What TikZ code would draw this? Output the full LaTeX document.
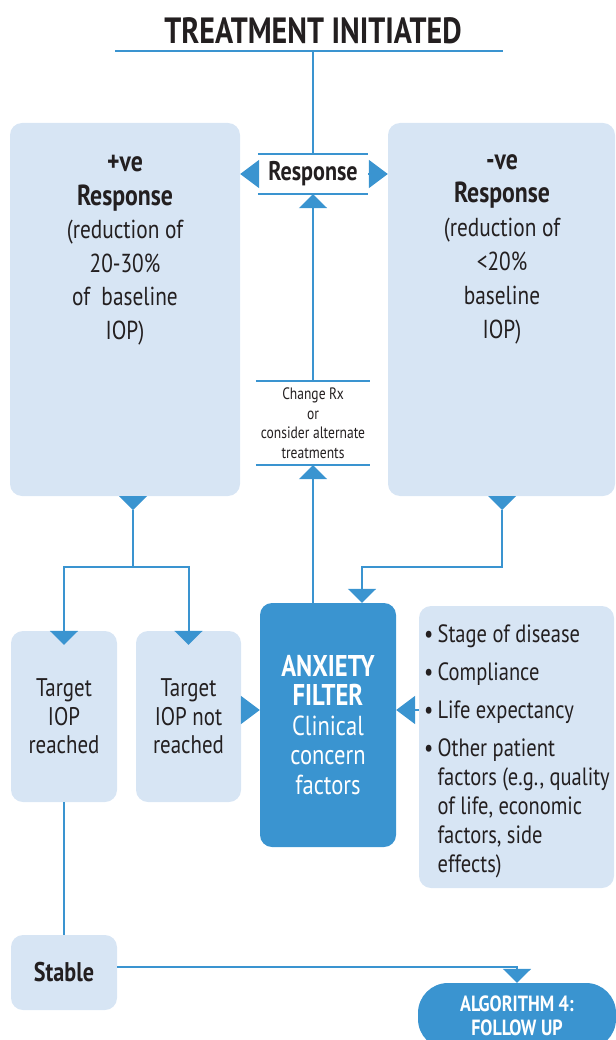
\documentclass[tikz,border=0pt]{standalone}
\usepackage{fontspec}
\setmainfont[FakeStretch=0.82]{PT Sans}
\usetikzlibrary{arrows.meta,calc}
\definecolor{cblue}{HTML}{3A94D0}
\definecolor{cfill}{HTML}{D7E5F4}
\definecolor{ctext}{HTML}{231F20}
\newcommand\fsz[2]{\fontsize{#1}{#2}\selectfont}
\begin{document}
\begin{tikzpicture}[x=1pt,y=-1pt,
  conn/.style={draw=cblue, line width=2pt},
  tipv/.style={-{Triangle[width=28pt,length=14pt]}},
  tiph/.style={-{Triangle[width=28pt,length=19pt]}},
  softbox/.style={fill=cfill, rounded corners=12pt, inner sep=0pt, text=ctext, align=center},
  darkbox/.style={fill=cblue, rounded corners=12pt, inner sep=0pt, text=white, align=center},
  txt/.style={inner sep=0pt, text=ctext, align=center}]
\useasboundingbox (0,0) rectangle (615,1040);

% title
\node[txt, font=\bfseries\fsz{36.5}{40}] (title) at (313,31) {TREATMENT INITIATED};
\coordinate (tl) at (115,51);
\coordinate (tr) at (503,51);
\coordinate (tm) at (313,51);

% big boxes
\node[softbox, minimum width=230, minimum height=373] (pos) at (125,309.5) {};
\node[txt, font=\fsz{26}{33.5}] (postxt) at (125,250) {{\bfseries\fontsize{29}{33.5}\selectfont +ve}\\{\bfseries\fontsize{29}{33.5}\selectfont Response}\\(reduction of\\20-30\%\\of~ baseline\\IOP)};
\node[softbox, minimum width=227, minimum height=373] (neg) at (501.5,309.5) {};
\node[txt, font=\fsz{26}{33.8}] (negtxt) at (502,249) {{\bfseries\fontsize{29}{33.8}\selectfont -ve}\\{\bfseries\fontsize{29}{33.8}\selectfont Response}\\(reduction of\\<20\%\\baseline\\IOP)};

% response and change
\node[txt, font=\bfseries\fsz{27}{28}, minimum width=110, minimum height=40] (resp) at (313,174) {Response};
\node[txt, font=\fsz{16.5}{19.5}, minimum width=114, minimum height=84] (chg) at (313,423) {Change Rx\\or\\consider alternate\\treatments};

% lower boxes
\node[softbox, minimum width=106, minimum height=171, font=\fsz{25.5}{28.5}] (t1) at (64,716.5) {Target\\IOP\\reached};
\node[softbox, minimum width=105, minimum height=171, font=\fsz{25.5}{28.5}] (t2) at (188.5,716.5) {Target\\IOP not\\reached};
\node[darkbox, minimum width=136, minimum height=244, font=\fsz{27.5}{29.5}] (anx) at (328,725) {{\bfseries\fontsize{30}{29.5}\selectfont ANXIETY}\\{\bfseries\fontsize{30}{29.5}\selectfont FILTER}\\Clinical\\concern\\factors};
\node[softbox, minimum width=195, minimum height=282] (fac) at (516.5,747) {};
\node[txt, align=left, anchor=north west, font=\fsz{25}{29}] (factxt) at (424,624)
 {\textbullet\,Stage of disease\\[9pt]
  \textbullet\,Compliance\\[9pt]
  \textbullet\,Life expectancy\\[9pt]
  \textbullet\,Other patient\\
  \hphantom{\textbullet\,}factors (e.g., quality\\
  \hphantom{\textbullet\,}of life, economic\\
  \hphantom{\textbullet\,}factors, side\\
  \hphantom{\textbullet\,}effects)};
\node[softbox, minimum width=106, minimum height=75, font=\bfseries\fsz{27}{28}] (stb) at (64,972.5) {Stable};
\node[darkbox, rounded corners=30pt, minimum width=198, minimum height=66, font=\bfseries\fsz{22}{24}] (alg) at (517,1016) {ALGORITHM 4:\\FOLLOW UP};

% helper coordinates
\coordinate (pout) at (133,496);
\coordinate (ptip) at (133,510);
\coordinate (j1) at (133,567);
\coordinate (nout) at (502,496);
\coordinate (ntip) at (502,510);
\coordinate (j2) at (362,567);
\coordinate (ay) at (0,710);
\coordinate (sy) at (0,967);

% connectors
\draw[conn, line width=2.5pt] (tl) -- (tr);
\draw[conn] (tm) -- (tm |- resp.north);
\draw[conn] (resp.north west) -- (resp.north east);
\draw[conn] (resp.south west) -- (resp.south east);
\draw[conn] (chg.north west) -- (chg.north east);
\draw[conn] (chg.south west) -- (chg.south east);
\draw[conn, tiph] (resp.west) -- (pos.east |- resp.west);
\draw[conn, tiph] (resp.east) -- (neg.west |- resp.east);
\draw[conn, tipv] (chg.north) -- (resp.south);
\draw[conn, tipv] (anx.north -| chg.south) -- (chg.south);

\fill[cblue] ($(pout)+(-14,0)$) -- ($(pout)+(14,0)$) -- (ptip) -- cycle;
\draw[conn] (ptip) -- (j1);
\draw[conn, tipv] (j1) -| ($(t1.north)+(0,14)$);
\draw[conn, tipv] (j1) -| ($(t2.north)+(0,14)$);

\fill[cblue] ($(nout)+(-14,0)$) -- ($(nout)+(14,0)$) -- (ntip) -- cycle;
\draw[conn, tipv] (ntip) |- (j2) -- (j2 |- anx.north);

\draw[conn, tiph] (t2.east |- ay) -- (anx.west |- ay);
\draw[conn, tiph] (fac.west |- ay) -- (anx.east |- ay);

\draw[conn] (t1.south) -- (stb.north);
\draw[conn, tipv] (stb.east |- sy) -| (alg.north);
\end{tikzpicture}
\end{document}
